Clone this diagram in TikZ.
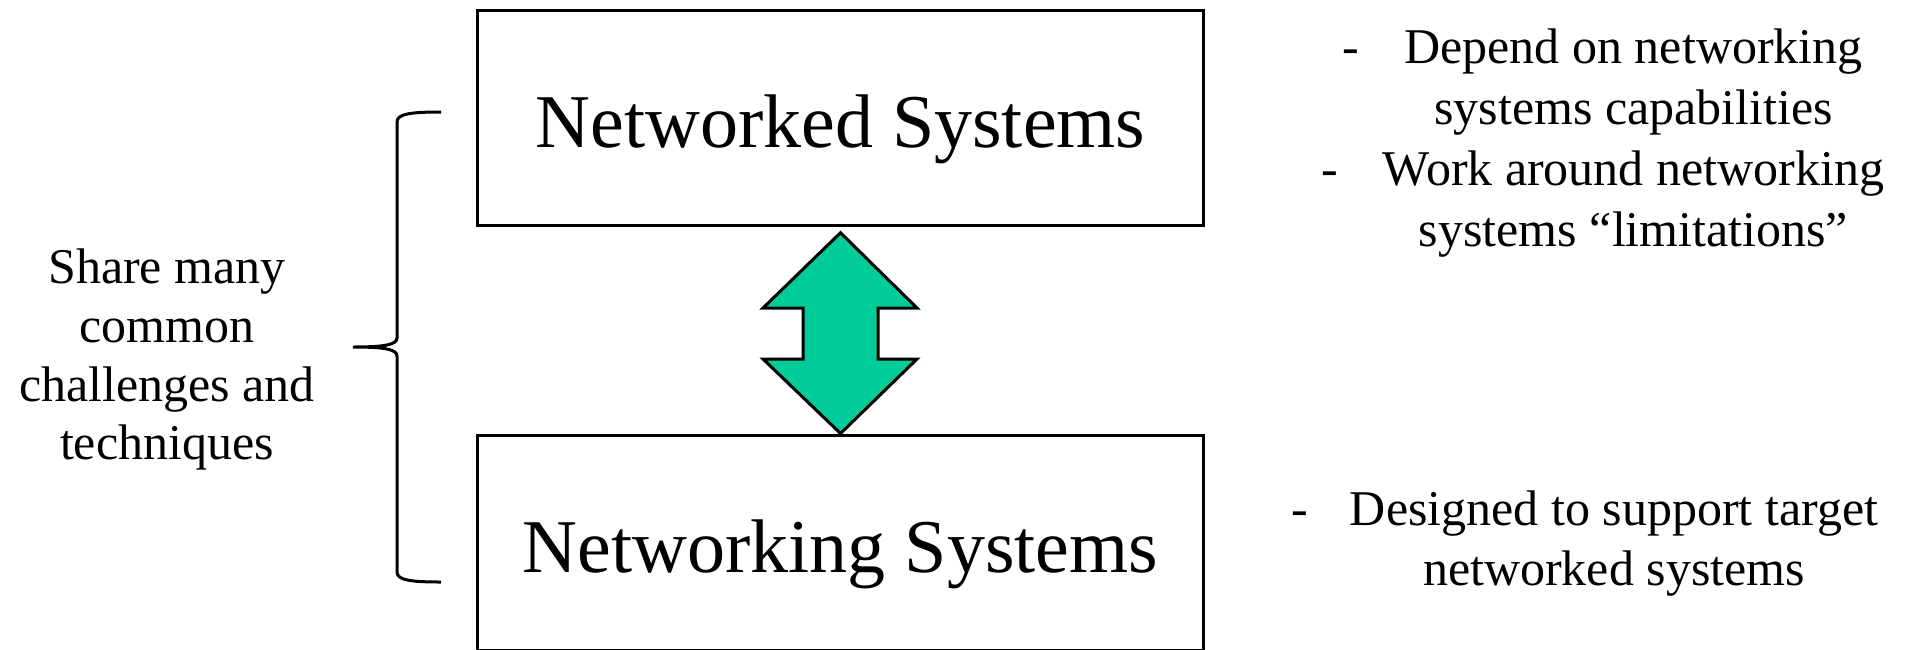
\documentclass[tikz,border=0pt]{standalone}
\usepackage{fontspec}
\setmainfont{Liberation Serif}
\definecolor{arrowgreen}{RGB}{0,204,153}
\begin{document}
\begin{tikzpicture}[x=0.5pt,y=-0.5pt,
  sysbox/.style={draw, line width=1.5pt, minimum width=363pt, minimum height=107.5pt, inner sep=0pt},
  title/.style={font=\fontsize{38}{44}\selectfont, inner sep=0pt, anchor=base},
  line/.style={font=\fontsize{25}{30.5}\selectfont, inner sep=0pt, anchor=base},
  outline/.style={line width=1.5pt, line join=miter},
]
\useasboundingbox (0,0) rectangle (1910,649);
\fill[white] (0,0) rectangle (1910,649);

% the two layers
\node[sysbox] (ned) at (840.5,117.5) {};
\node[sysbox] (ning) at (840.5,542.5) {};
\node[title] (nedlbl) at (840.5,147) {Networked Systems};
\node[title] (ninglbl) at (840.5,572) {Networking Systems};

% double-headed block arrow between the layers
\draw[outline, fill=arrowgreen]
  (840.5,232.7) -- (917,308) -- (878,308) -- (878,359) -- (917,359)
  -- (840.5,433.5) -- (763,359) -- (803,359) -- (803,308) -- (763,308) -- cycle;

% curly brace grouping both layers
\draw[line width=1.5pt]
  (441,112) .. controls (410,112) and (397,114) .. (397,122)
  -- (397,338) .. controls (397,345) and (383,347) .. (353,347)
  .. controls (383,347) and (397,349) .. (397,356)
  -- (397,572) .. controls (397,580) and (410,582) .. (441,582);

\node[line] (s1) at (167,283) {Share many};
\node[line] (s2) at (167,342) {common};
\node[line] (s3) at (167,401) {challenges and};
\node[line] (s4) at (167,459) {techniques};

% remarks on each layer
\node[line] (a1) at (1633.5,63) {Depend on networking};
\node[line] (a2) at (1633.5,124) {systems capabilities};
\node[line] (a3) at (1633.5,185) {Work around networking};
\node[line] (a4) at (1633.5,246) {systems “limitations”};
\node[line] (d1) at (1351,63) {-};
\node[line] (d2) at (1330,185) {-};

\node[line] (b1) at (1614,525) {Designed to support target};
\node[line] (b2) at (1614,585) {networked systems};
\node[line] (d3) at (1300,525) {-};
\end{tikzpicture}
\end{document}
